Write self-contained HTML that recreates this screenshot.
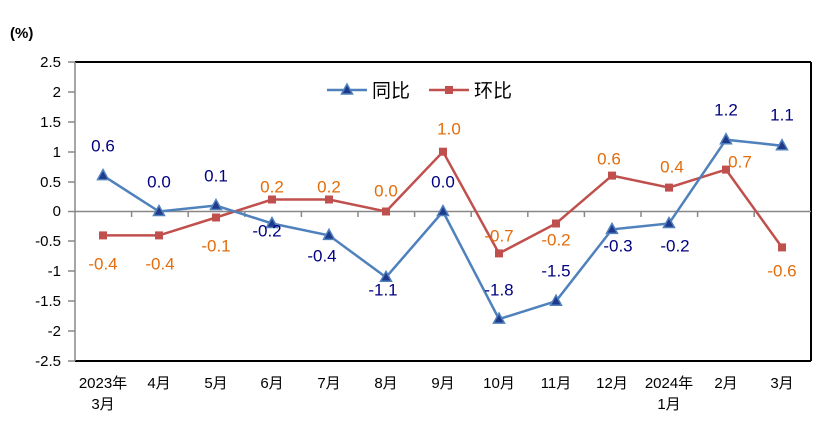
<!DOCTYPE html>
<html><head><meta charset="utf-8"><style>
html,body{margin:0;padding:0;background:#fff}
text{font-family:"Liberation Sans","Noto Sans CJK SC",sans-serif}
</style></head><body>
<svg width="840" height="423" viewBox="0 0 840 423" xmlns="http://www.w3.org/2000/svg">
<rect width="840" height="423" fill="#fff"/>
<text x="10" y="38" font-size="15" font-weight="bold" fill="#000">(%)</text>
<!-- frame -->
<line x1="75" y1="62" x2="811" y2="62" stroke="#000" stroke-width="2"/>
<line x1="811" y1="62" x2="811" y2="361" stroke="#000" stroke-width="2"/>
<line x1="75" y1="361" x2="811" y2="361" stroke="#000" stroke-width="2"/>
<line x1="75" y1="62" x2="75" y2="361" stroke="#888" stroke-width="1.5"/>
<line x1="75" y1="211.5" x2="811" y2="211.5" stroke="#888" stroke-width="1.5"/>
<g stroke="#888" stroke-width="1.5">
<line x1="68" y1="62" x2="75" y2="62"/><line x1="68" y1="92" x2="75" y2="92"/><line x1="68" y1="122" x2="75" y2="122"/><line x1="68" y1="152" x2="75" y2="152"/><line x1="68" y1="182" x2="75" y2="182"/><line x1="68" y1="211.5" x2="75" y2="211.5"/><line x1="68" y1="241" x2="75" y2="241"/><line x1="68" y1="271" x2="75" y2="271"/><line x1="68" y1="301" x2="75" y2="301"/><line x1="68" y1="331" x2="75" y2="331"/><line x1="68" y1="361" x2="75" y2="361"/>
<line x1="131.6" y1="211.5" x2="131.6" y2="217"/><line x1="188.2" y1="211.5" x2="188.2" y2="217"/><line x1="244.8" y1="211.5" x2="244.8" y2="217"/><line x1="301.4" y1="211.5" x2="301.4" y2="217"/><line x1="358" y1="211.5" x2="358" y2="217"/><line x1="414.6" y1="211.5" x2="414.6" y2="217"/><line x1="471.2" y1="211.5" x2="471.2" y2="217"/><line x1="527.8" y1="211.5" x2="527.8" y2="217"/><line x1="584.4" y1="211.5" x2="584.4" y2="217"/><line x1="641" y1="211.5" x2="641" y2="217"/><line x1="697.6" y1="211.5" x2="697.6" y2="217"/><line x1="754.2" y1="211.5" x2="754.2" y2="217"/>
</g>
<g font-size="15" fill="#000" text-anchor="end">
<text x="61" y="67">2.5</text><text x="61" y="97">2</text><text x="61" y="127">1.5</text><text x="61" y="157">1</text><text x="61" y="187">0.5</text><text x="61" y="216">0</text><text x="61" y="246">-0.5</text><text x="61" y="276">-1</text><text x="61" y="306">-1.5</text><text x="61" y="336">-2</text><text x="61" y="366">-2.5</text>
</g>
<g font-size="15" fill="#000" text-anchor="middle">
<text x="103" y="388">2023年</text><text x="103" y="409">3月</text>
<text x="159" y="388">4月</text><text x="216" y="388">5月</text><text x="272" y="388">6月</text><text x="329" y="388">7月</text><text x="386" y="388">8月</text><text x="443" y="388">9月</text><text x="499" y="388">10月</text><text x="556" y="388">11月</text><text x="612" y="388">12月</text>
<text x="669" y="388">2024年</text><text x="669" y="409">1月</text>
<text x="726" y="388">2月</text><text x="782" y="388">3月</text>
</g>
<!-- 环比 -->
<polyline fill="none" stroke="#C0504D" stroke-width="2.5" points="103,235.4 159,235.4 216,217.5 272,199.5 329,199.5 386,211.5 443,151.7 499,253.4 556,223.5 612,175.6 669,187.6 726,169.6 782,247.4"/>
<g fill="#C0504D">
<rect x="99" y="231.4" width="8" height="8"/><rect x="155" y="231.4" width="8" height="8"/><rect x="212" y="213.5" width="8" height="8"/><rect x="268" y="195.5" width="8" height="8"/><rect x="325" y="195.5" width="8" height="8"/><rect x="382" y="207.5" width="8" height="8"/><rect x="439" y="147.7" width="8" height="8"/><rect x="495" y="249.4" width="8" height="8"/><rect x="552" y="219.5" width="8" height="8"/><rect x="608" y="171.6" width="8" height="8"/><rect x="665" y="183.6" width="8" height="8"/><rect x="722" y="165.6" width="8" height="8"/><rect x="778" y="243.4" width="8" height="8"/>
</g>
<!-- 同比 -->
<polyline fill="none" stroke="#4F81BD" stroke-width="2.5" points="103,175.6 159,211.5 216,205.5 272,223.5 329,235.4 386,277.3 443,211.5 499,319.1 556,301.2 612,229.4 669,223.5 726,139.7 782,145.7"/>
<g fill="#1F3A8A" stroke="#4F81BD" stroke-width="1.5">
<polygon points="103,169.6 97.5,179.6 108.5,179.6"/><polygon points="159,205.5 153.5,215.5 164.5,215.5"/><polygon points="216,199.5 210.5,209.5 221.5,209.5"/><polygon points="272,217.5 266.5,227.5 277.5,227.5"/><polygon points="329,229.4 323.5,239.4 334.5,239.4"/><polygon points="386,271.3 380.5,281.3 391.5,281.3"/><polygon points="443,205.5 437.5,215.5 448.5,215.5"/><polygon points="499,313.1 493.5,323.1 504.5,323.1"/><polygon points="556,295.2 550.5,305.2 561.5,305.2"/><polygon points="612,223.4 606.5,233.4 617.5,233.4"/><polygon points="669,217.5 663.5,227.5 674.5,227.5"/><polygon points="726,133.7 720.5,143.7 731.5,143.7"/><polygon points="782,139.7 776.5,149.7 787.5,149.7"/>
</g>
<g font-size="17" fill="#000080" text-anchor="middle" dominant-baseline="middle">
<text x="103" y="147">0.6</text><text x="159" y="183">0.0</text><text x="216" y="177">0.1</text><text x="267" y="232">-0.2</text><text x="322" y="257">-0.4</text><text x="383" y="291">-1.1</text><text x="443" y="183">0.0</text><text x="499" y="291">-1.8</text><text x="556" y="272">-1.5</text><text x="618" y="247">-0.3</text><text x="675" y="247">-0.2</text><text x="726" y="111">1.2</text><text x="782" y="116">1.1</text>
</g>
<g font-size="17" fill="#E46C0A" text-anchor="middle" dominant-baseline="middle">
<text x="103" y="265">-0.4</text><text x="160" y="265">-0.4</text><text x="216" y="247">-0.1</text><text x="272" y="188">0.2</text><text x="329" y="188">0.2</text><text x="386" y="192">0.0</text><text x="449" y="130">1.0</text><text x="499" y="237">-0.7</text><text x="556" y="241">-0.2</text><text x="609" y="160">0.6</text><text x="672" y="168">0.4</text><text x="740" y="163">0.7</text><text x="782" y="272">-0.6</text>
</g>
<!-- legend -->
<line x1="327" y1="90" x2="367" y2="90" stroke="#4F81BD" stroke-width="2.5"/>
<polygon points="347,84 341.5,94 352.5,94" fill="#1F3A8A" stroke="#4F81BD" stroke-width="1.5"/>
<text x="372" y="97" font-size="19" fill="#000">同比</text>
<line x1="429" y1="90" x2="469" y2="90" stroke="#C0504D" stroke-width="2.5"/>
<rect x="445" y="86" width="8" height="8" fill="#C0504D"/>
<text x="474" y="97" font-size="19" fill="#000">环比</text>
</svg>
</body></html>
